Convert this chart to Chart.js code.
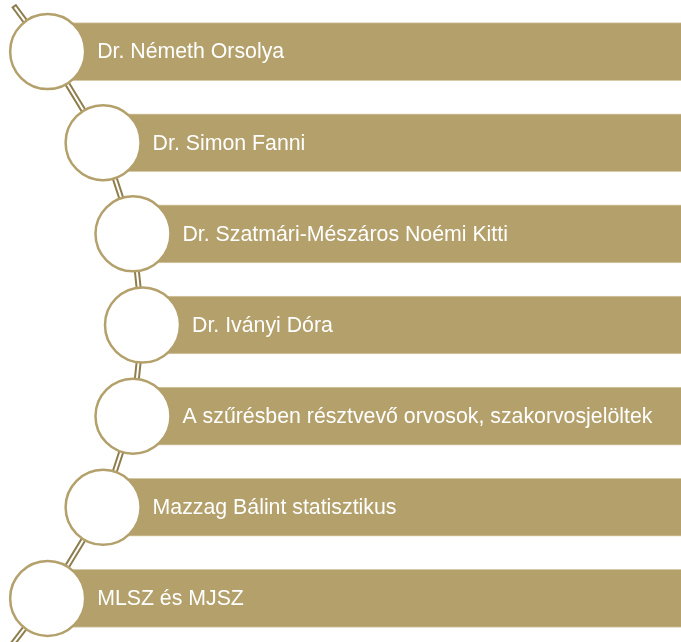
<!DOCTYPE html>
<html>
<head>
<meta charset="utf-8">
<script src="https://cdn.jsdelivr.net/npm/chart.js@4"></script>
<style>
  html, body { margin: 0; padding: 0; background: #fff; overflow: hidden; }
</style>
</head>
<body>
<canvas id="chart" width="681" height="644"></canvas>
<script>
  // list items, top to bottom
  const names = [
    'Dr. Németh Orsolya',
    'Dr. Simon Fanni',
    'Dr. Szatmári-Mészáros Noémi Kitti',
    'Dr. Iványi Dóra',
    'A szűrésben résztvevő orvosok, szakorvosjelöltek',
    'Mazzag Bálint statisztikus',
    'MLSZ és MJSZ'
  ];

  const tan = '#B3A06B';
  const rod = '#8E7D4D';

  // the items sit on a big arc; its centre is level with the middle item
  const arcR = 442;
  const arcCx = -299.5;
  const rowStep = 91.2;
  const mid = (names.length - 1) / 2;

  function arcX(i) {
    let dy = (i - mid) * rowStep;
    return arcCx + Math.sqrt(arcR * arcR - dy * dy);
  }

  const circleX = names.map((n, i) => arcX(i));
  const centres = circleX.map((x, i) => ({ x: x, y: i }));

  // short loose ends of the chain above the first and below the last circle
  const stubs = {
    id: 'stubs',
    beforeDatasetDraw(chart, args) {
      if (args.index !== 1) return;
      let ctx = chart.ctx;
      let pts = chart.getDatasetMeta(3).data;
      let first = pts[0], last = pts[pts.length - 1];
      let ends = [
        [first, { x: first.x - 34, y: first.y - 46 }],
        [last, { x: last.x - 40, y: last.y + 52 }]
      ];
      ctx.save();
      ends.forEach(([a, b]) => {
        let dx = b.x - a.x, dy = b.y - a.y;
        let len = Math.hypot(dx, dy);
        ctx.beginPath();
        ctx.moveTo(a.x, a.y);
        ctx.lineTo(b.x, b.y);
        ctx.strokeStyle = rod;
        ctx.lineWidth = 6;
        ctx.stroke();
        ctx.beginPath();
        ctx.moveTo(a.x, a.y);
        ctx.lineTo(b.x - dx / len * 2, b.y - dy / len * 2);
        ctx.strokeStyle = '#fff';
        ctx.lineWidth = 2;
        ctx.stroke();
      });
      ctx.restore();
    }
  };

  const itemText = {
    id: 'itemText',
    afterDatasetsDraw(chart) {
      let ctx = chart.ctx;
      let pts = chart.getDatasetMeta(3).data;
      ctx.save();
      ctx.fillStyle = '#fff';
      ctx.font = '21.3px "Liberation Sans", Arial, sans-serif';
      ctx.textBaseline = 'middle';
      ctx.textAlign = 'left';
      names.forEach((n, i) => {
        ctx.fillText(n, pts[i].x + 49.5, pts[i].y + 1);
      });
      ctx.restore();
    }
  };

  new Chart(document.getElementById('chart').getContext('2d'), {
    type: 'bar',
    data: {
      labels: names,
      datasets: [
        {
          type: 'bar',
          indexAxis: 'y',
          data: circleX.map(x => [x, 700]),
          backgroundColor: tan,
          borderColor: '#d6cba9',
          borderWidth: 1,
          borderSkipped: false,
          barThickness: 58,
          order: 4
        },
        {
          type: 'line',
          data: centres,
          borderColor: rod,
          borderWidth: 6,
          pointRadius: 0,
          tension: 0,
          fill: false,
          clip: false,
          order: 3
        },
        {
          type: 'line',
          data: centres,
          borderColor: '#fff',
          borderWidth: 2,
          pointRadius: 0,
          tension: 0,
          fill: false,
          clip: false,
          order: 2
        },
        {
          type: 'scatter',
          data: centres,
          pointRadius: 37.5,
          pointHoverRadius: 37.5,
          pointBackgroundColor: '#fff',
          pointBorderColor: tan,
          pointBorderWidth: 2.5,
          showLine: false,
          clip: false,
          order: 1
        }
      ]
    },
    options: {
      indexAxis: 'y',
      responsive: false,
      animation: false,
      layout: { autoPadding: false, padding: { top: 6, left: 0, right: 0, bottom: 0 } },
      plugins: {
        legend: { display: false },
        tooltip: { enabled: false }
      },
      scales: {
        x: { type: 'linear', min: 0, max: 681, display: false },
        y: { type: 'category', labels: names, offset: true, display: false }
      }
    },
    plugins: [stubs, itemText]
  });
</script>
</body>
</html>
